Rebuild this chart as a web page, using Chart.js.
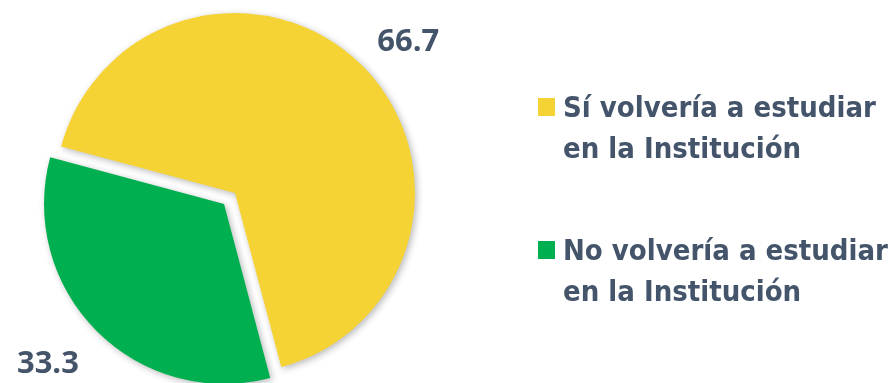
<!DOCTYPE html>
<html lang="es">
<head>
<meta charset="utf-8">
<title>Volvería a estudiar en la Institución</title>
<script src="https://cdn.jsdelivr.net/npm/chart.js@4/dist/chart.umd.min.js"></script>
<style>
  html, body { margin: 0; padding: 0; background: #fff; }
  #wrap { position: relative; width: 895px; height: 383px; overflow: hidden; }
  #pie { position: absolute; left: 0; top: 0; }
  #legend {
    position: absolute; left: 538px; top: 87px;
    font-family: "Liberation Sans Narrow", "DejaVu Sans Condensed", "Liberation Sans", sans-serif;
    font-weight: bold; font-size: 29px; line-height: 41px; color: #44546A;
  }
  .item { position: relative; padding-left: 25px; margin-bottom: 61px; white-space: nowrap; }
  .box { position: absolute; left: 0; top: 11px; width: 17px; height: 18px; }
</style>
</head>
<body>
<div id="wrap">
  <canvas id="pie" width="895" height="383"></canvas>
  <div id="legend"></div>
</div>
<script>
// respuestas y porcentajes
const labels = [
  ['Sí volvería a estudiar', 'en la Institución'],
  ['No volvería a estudiar', 'en la Institución']
];
const values = [66.7, 33.3];
const colors = ['#F6D335', '#00B050'];
// separación de cada porción respecto al centro (px)
const explode = [0, 15.5];

const textColor = '#44546A';

// leyenda en HTML
const legendNode = document.getElementById('legend');
labels.forEach((lines, i) => {
  const item = document.createElement('div');
  item.className = 'item';
  item.innerHTML = '<span class="box" style="background:' + colors[i] + '"></span>' + lines.join('<br>');
  legendNode.appendChild(item);
});

// desplaza las porciones separadas sin cambiar su radio
const explodeSlices = {
  id: 'explodeSlices',
  afterDatasetUpdate(chart) {
    const area = chart.chartArea;
    const cx = (area.left + area.right) / 2;
    const cy = (area.top + area.bottom) / 2;
    chart.getDatasetMeta(0).data.forEach((arc, i) => {
      const mid = (arc.startAngle + arc.endAngle) / 2;
      arc.x = cx + Math.cos(mid) * explode[i];
      arc.y = cy + Math.sin(mid) * explode[i];
    });
  }
};

// sombra suave bajo las porciones
const shadow = {
  id: 'shadow',
  beforeDatasetDraw(chart) {
    const ctx = chart.ctx;
    ctx.save();
    ctx.shadowColor = 'rgba(0,0,0,0.28)';
    ctx.shadowBlur = 7;
    ctx.shadowOffsetX = 2;
    ctx.shadowOffsetY = 2;
  },
  afterDatasetDraw(chart) {
    chart.ctx.restore();
  }
};

// valores fuera de cada porción, anclados al extremo exterior
const valueLabels = {
  id: 'valueLabels',
  afterDatasetsDraw(chart) {
    const ctx = chart.ctx;
    const meta = chart.getDatasetMeta(0);
    ctx.save();
    ctx.fillStyle = textColor;
    ctx.font = 'bold 31px "Open Sans", sans-serif';
    meta.data.forEach((arc, i) => {
      const mid = (arc.startAngle + arc.endAngle) / 2;
      const c = Math.cos(mid), s = Math.sin(mid);
      const dist = arc.outerRadius + (s < 0 ? 21 : 25);
      ctx.textAlign = c >= 0 ? 'left' : 'right';
      ctx.textBaseline = s < 0 ? 'alphabetic' : 'top';
      ctx.fillText(values[i].toFixed(1), arc.x + c * dist, arc.y + s * dist);
    });
    ctx.restore();
  }
};

new Chart(
  document.getElementById('pie'), {
    type: 'pie',
    data: {
      labels: labels.map(l => l.join(' ')),
      datasets: [{
        data: values,
        backgroundColor: colors,
        borderWidth: 0,
        clip: false
      }]
    },
    options: {
      responsive: false,
      animation: false,
      radius: 180,
      rotation: -75,
      layout: { padding: { left: 0, right: 425, top: 3, bottom: 0 } },
      plugins: {
        legend: { display: false },
        tooltip: { enabled: false }
      }
    },
    plugins: [explodeSlices, shadow, valueLabels]
  }
);
</script>
</body>
</html>
